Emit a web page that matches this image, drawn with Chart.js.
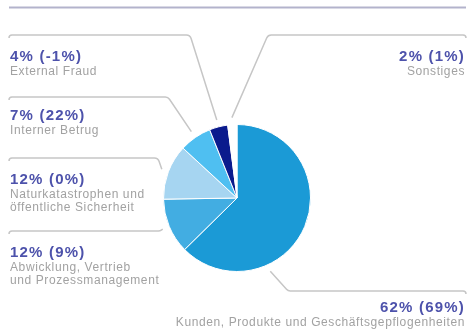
<!DOCTYPE html>
<html>
<head>
<meta charset="utf-8">
<script src="https://cdn.jsdelivr.net/npm/chart.js@4"></script>
<style>
  body { margin: 0; background: #fff; }
  #wrap { width: 469px; height: 334px; }
</style>
</head>
<body>
<div id="wrap"><canvas id="lossChart" width="469" height="334"></canvas></div>
<script>
// Verlustkategorien (Zeilen wie beschriftet)
var categories = [
  ['Kunden, Produkte und Geschäftsgepflogenheiten'],
  ['Abwicklung, Vertrieb', 'und Prozessmanagement'],
  ['Naturkatastrophen und', 'öffentliche Sicherheit'],
  ['Interner Betrug'],
  ['External Fraud'],
  ['Sonstiges']
];
// Anteil in % und Vorjahreswert in Klammern
var shares = [62, 12, 12, 7, 4, 2];
var prevShares = [69, 9, 0, 22, -1, 1];
var sliceColors = ['#1b9ad6', '#42ade2', '#a6d5f1', '#4fbff1', '#0b1b8d', '#ffffff'];

// Lage der Beschriftungen und Führungslinien
var labelLayout = [
  { side: 'right', lineY: 291, elbowX: 288, anchor: 0.69, textY: 312 },
  { side: 'left',  lineY: 231, elbowX: 160, anchor: 0.5,  textY: 257 },
  { side: 'left',  lineY: 158, elbowX: 158, anchor: 0.5,  textY: 184 },
  { side: 'left',  lineY: 97,  elbowX: 168, anchor: 0.5,  textY: 120 },
  { side: 'left',  lineY: 35,  elbowX: 190, anchor: 0.5,  textY: 61 },
  { side: 'right', lineY: 35,  elbowX: 268, anchor: 0.5,  textY: 61 }
];

var calloutPlugin = {
  id: 'callouts',
  beforeDraw: function (chart) {
    var ctx = chart.ctx;
    var meta = chart.getDatasetMeta(0);
    ctx.save();
    // Linie unter der Überschrift
    ctx.strokeStyle = '#b3b3cc';
    ctx.lineWidth = 2;
    ctx.beginPath();
    ctx.moveTo(9, 7.5);
    ctx.lineTo(466, 7.5);
    ctx.stroke();

    meta.data.forEach(function (arc, i) {
      var lay = labelLayout[i];
      var p = arc.getProps(['x', 'y', 'startAngle', 'endAngle', 'outerRadius'], true);
      var a = p.startAngle + (p.endAngle - p.startAngle) * lay.anchor;
      var r = p.outerRadius + 7;
      var px = p.x + Math.cos(a) * r;
      var py = p.y + Math.sin(a) * r;
      var endX = lay.side === 'left' ? 9 : 466;

      ctx.strokeStyle = '#c6c6c6';
      ctx.lineWidth = 1.5;
      ctx.beginPath();
      ctx.moveTo(px, py);
      ctx.arcTo(lay.elbowX, lay.lineY, endX, lay.lineY, 5);
      ctx.arcTo(endX, lay.lineY, endX, lay.lineY + 4, 3);
      ctx.stroke();

      var tx = lay.side === 'left' ? 10 : 465;
      ctx.textAlign = lay.side === 'left' ? 'left' : 'right';
      ctx.textBaseline = 'alphabetic';
      ctx.fillStyle = '#4d52ab';
      ctx.font = 'bold 15px "Liberation Sans", Arial, sans-serif';
      ctx.letterSpacing = '1.2px';
      ctx.fillText(shares[i] + '% (' + prevShares[i] + '%)', tx, lay.textY);

      ctx.fillStyle = '#a2a2a2';
      ctx.font = '12px "Liberation Sans", Arial, sans-serif';
      ctx.letterSpacing = '0.6px';
      categories[i].forEach(function (line, k) {
        ctx.fillText(line, tx, lay.textY + 14 + k * 13);
      });
    });
    ctx.restore();
  }
};

var ctx = document.getElementById('lossChart').getContext('2d');
var lossChart = new Chart(ctx, {
  type: 'pie',
  data: {
    labels: categories,
    datasets: [{
      data: shares,
      backgroundColor: sliceColors,
      borderColor: '#ffffff',
      borderWidth: 1
    }]
  },
  options: {
    responsive: false,
    animation: false,
    layout: { padding: { left: 163, right: 158, top: 124, bottom: 62 } },
    plugins: {
      legend: { display: false },
      tooltip: { enabled: false }
    }
  },
  plugins: [calloutPlugin]
});
</script>
</body>
</html>
